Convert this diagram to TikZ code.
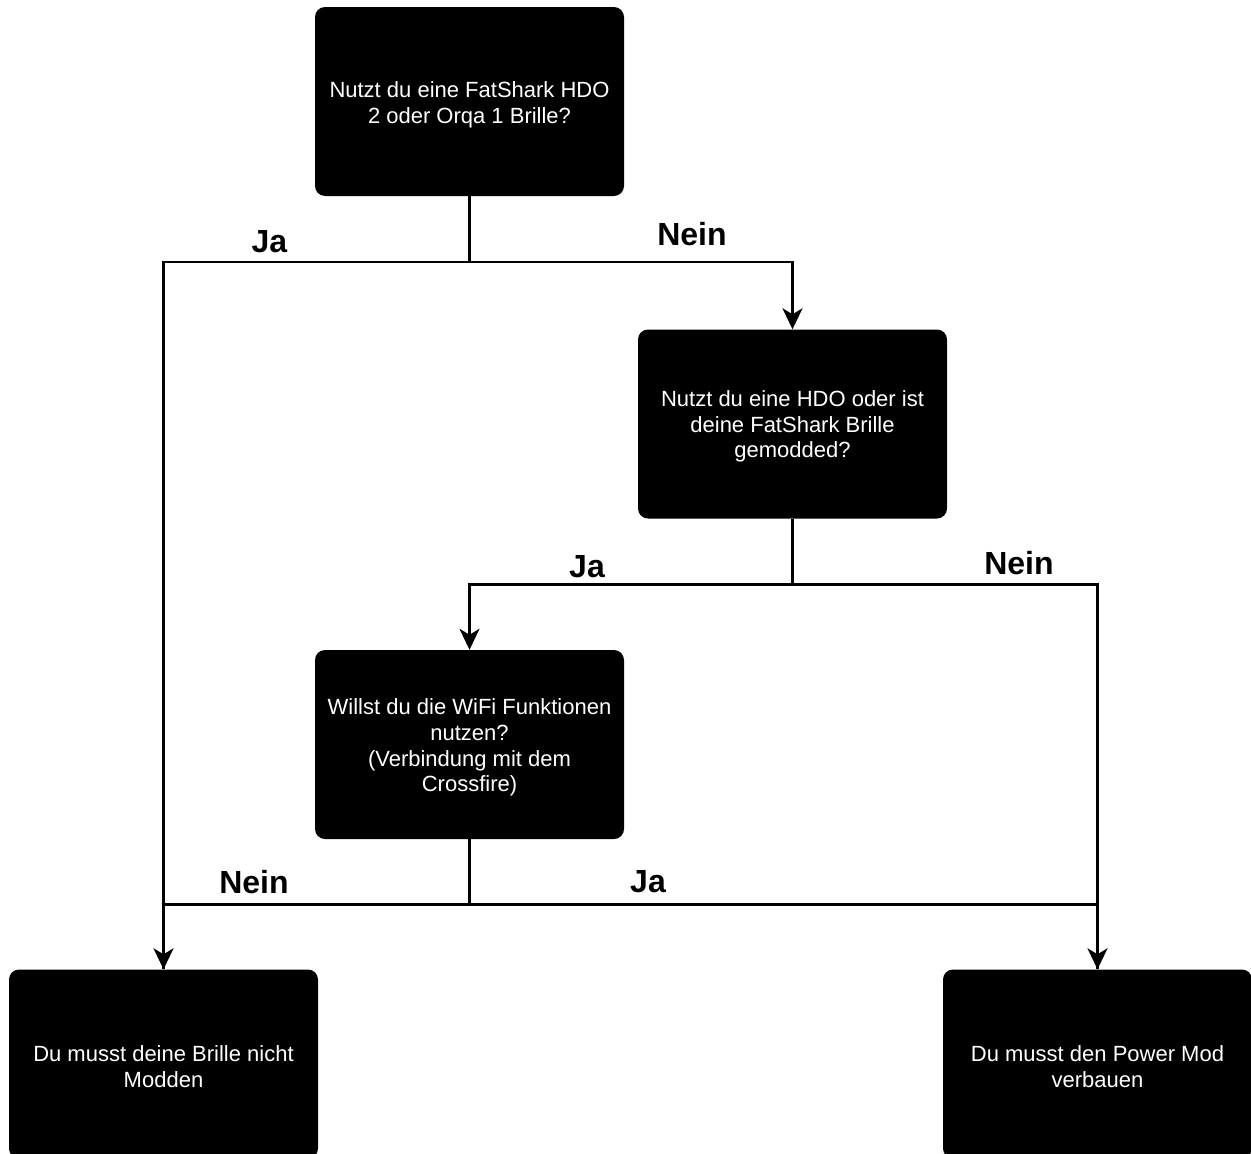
\documentclass[tikz,border=0pt]{standalone}
\usepackage{fontspec}
\setmainfont{Liberation Sans}
\usetikzlibrary{arrows.meta}
\begin{document}
\begin{tikzpicture}[x=1pt,y=-1pt,
  box/.style={rectangle, rounded corners=10pt, fill=black, draw=none,
    minimum width=309pt, minimum height=189pt, inner sep=0pt},
  btxt/.style={text=white, align=center,
    font=\fontsize{22}{25.8}\selectfont, inner sep=0pt},
  conn/.style={line width=2.8pt, draw=black},
  arr/.style={conn, -{Stealth[length=21pt, width=20pt, inset=6pt]}},
  lbl/.style={font=\fontsize{32}{36}\selectfont\bfseries, inner sep=0pt}]
\useasboundingbox (0,0) rectangle (1251,1154);
\clip (0,0) rectangle (1251,1154);
\fill[white] (0,0) rectangle (1251,1154);

\node[box] (b1) at (469.5,101.5) {};
\node[box] (b2) at (792.5,424) {};
\node[box] (b3) at (469.5,744.5) {};
\node[box] (b4) at (163.5,1064) {};
\node[box] (b5) at (1097.5,1064) {};

\node[btxt] (t1) at (469.5,104.5) {Nutzt du eine FatShark HDO\\2 oder Orqa 1 Brille?};
\node[btxt] (t2) at (792.5,426.5) {Nutzt du eine HDO oder ist\\deine FatShark Brille\\gemodded?};
\node[btxt] (t3) at (469.5,747.5) {Willst du die WiFi Funktionen\\nutzen?\\(Verbindung mit dem\\Crossfire)};
\node[btxt] (t4) at (163.5,1067) {Du musst deine Brille nicht\\Modden};
\node[btxt] (t5) at (1097.5,1067) {Du musst den Power Mod\\verbauen};

\coordinate (j1) at (469.5,262);
\coordinate (j2) at (792.5,584.5);
\coordinate (j3) at (469.5,904.5);

\draw[conn] (b1.south) -- (j1);
\draw[arr] (j1) -| (b2.north);
\draw[arr] (j1) -| (b4.north);

\draw[conn] (b2.south) -- (j2);
\draw[arr] (j2) -| (b3.north);
\draw[arr] (j2) -| (b5.north);

\draw[conn] (b3.south) -- (j3);
\draw[conn] (j3) -| (b4.north);
\draw[conn] (j3) -| (b5.north);

\node[lbl] (l1) at (269.5,242) {Ja};
\node[lbl] (l2) at (692,234) {Nein};
\node[lbl] (l3) at (587,567) {Ja};
\node[lbl] (l4) at (1019,563) {Nein};
\node[lbl] (l5) at (254,882) {Nein};
\node[lbl] (l6) at (648,882) {Ja};
\end{tikzpicture}
\end{document}
